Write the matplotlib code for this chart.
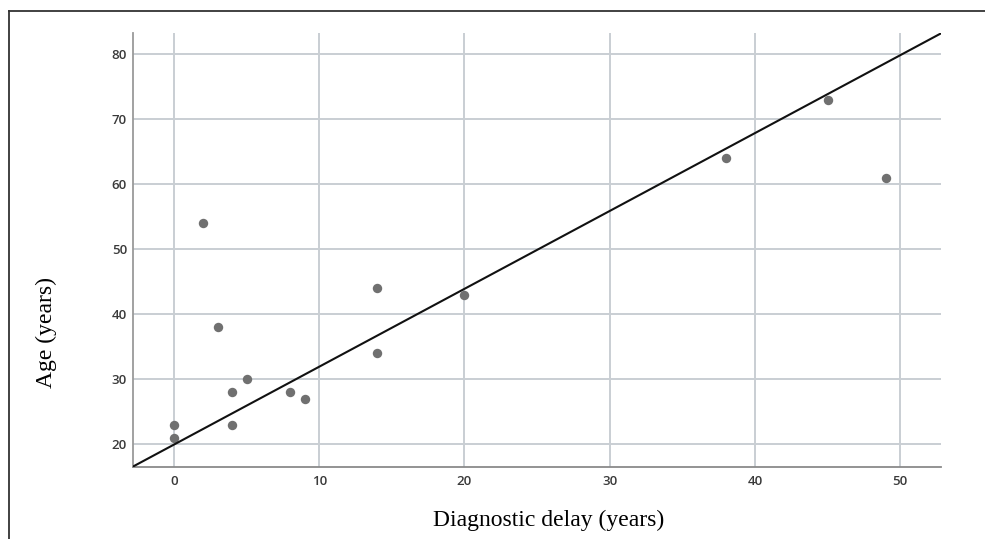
import numpy as np
import matplotlib.pyplot as plt
from matplotlib.lines import Line2D

# diagnostic delay (years) vs age (years)
delay = [0, 0, 2, 3, 4, 4, 5, 8, 9, 14, 14, 20, 38, 45, 49]
age = [23, 21, 54, 38, 28, 23, 30, 28, 27, 44, 34, 43, 64, 73, 61]

x_ticks = [0, 10, 20, 30, 40, 50]
y_ticks = [20, 30, 40, 50, 60, 70, 80]

fig = plt.figure(figsize=(9.85, 5.39), dpi=100)
ax = fig.add_axes([0.1347, 0.1341, 0.8206, 0.804])

ax.set_xlim(-2.84, 52.8)
ax.set_ylim(16.55, 83.2)
ax.set_xticks(x_ticks)
ax.set_yticks(y_ticks)
ax.grid(True, color='#c9ced3', linewidth=1.4)
ax.set_axisbelow(True)

ax.scatter(delay, age, s=46, color='#707070', zorder=3, linewidths=0)

# reference line corner to corner
ax.plot([0, 1], [0, 1], transform=ax.transAxes, color='#111111', linewidth=1.5, zorder=4)

for s in ['top', 'right']:
    ax.spines[s].set_visible(False)
ax.spines['left'].set_color('#9a9a9a')
ax.spines['bottom'].set_color('#8a8a8a')
ax.spines['left'].set_linewidth(1.3)
ax.spines['bottom'].set_linewidth(1.3)

ax.tick_params(length=0, labelsize=9.5, labelcolor='#3a3a3a')
ax.tick_params(axis='y', pad=4)
ax.tick_params(axis='x', pad=6)
for lab in ax.get_xticklabels() + ax.get_yticklabels():
    lab.set_family('Open Sans')
    lab.set_fontweight('semibold')

ax.set_xlabel('Diagnostic delay (years)', family='Liberation Serif', fontsize=17)
ax.set_ylabel('Age (years)', family='Liberation Serif', fontsize=17)
ax.xaxis.set_label_coords(0.515, -0.1)
ax.yaxis.set_label_coords(-0.094, 0.31)

# frame lines of the original figure
fig.add_artist(Line2D([9 / 985, 9 / 985], [0, 1 - 11 / 539], color='#333333', linewidth=1.3))
fig.add_artist(Line2D([9 / 985, 1], [1 - 11 / 539, 1 - 11 / 539], color='#333333', linewidth=1.3))

fig.savefig('out.png', dpi=100)
